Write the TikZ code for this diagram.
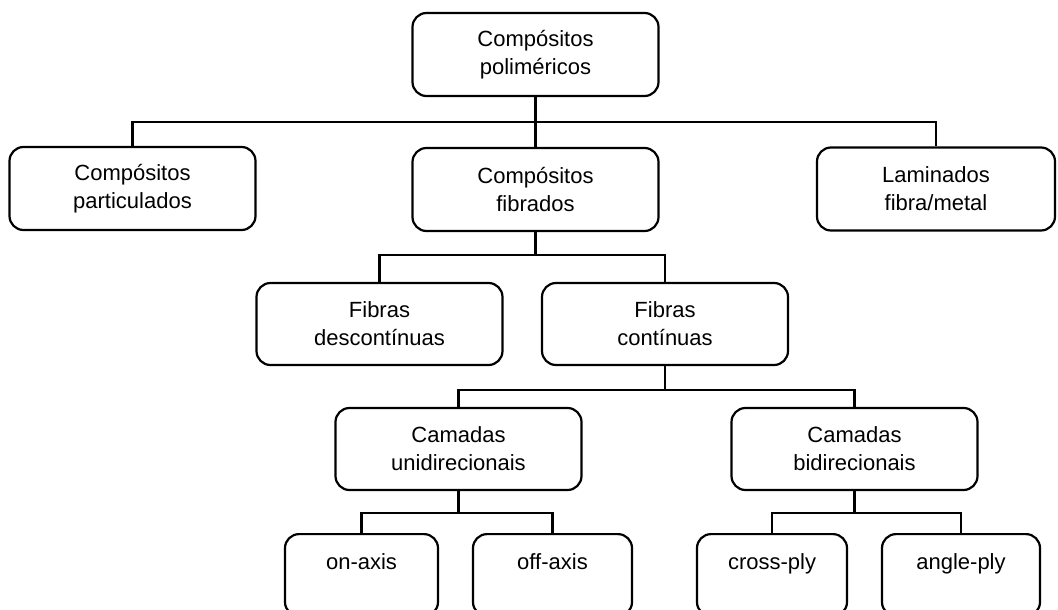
\documentclass[tikz,border=0pt]{standalone}
\usepackage{fontspec}
\setmainfont{Liberation Sans}
\usepackage{tikz}
\usetikzlibrary{positioning}
\tikzstyle{Block} = [draw, rounded corners=14pt, line width=2.2pt, align=center, minimum width=246pt, minimum height=83pt, font=\fontsize{22}{28}\selectfont]
\tikzstyle{Leaf} = [Block, minimum width=155pt, minimum height=82pt, text height=16pt, text depth=28pt, anchor=north]
\tikzstyle{Link} = [line width=2.2pt]

\begin{document}
\begin{tikzpicture}[x=1pt,y=-1pt]
    \clip (0,0) rectangle (1058,610);
    \node[Block] (root) at (535.5,54.5)  {Compósitos\\poliméricos};
    \node[Block] (part) at (132.5,188.5) {Compósitos\\particulados};
    \node[Block] (fib)  at (535.5,189.5) {Compósitos\\fibrados};
    \node[Block, minimum width=238pt] (lam) at (936,189) {Laminados\\fibra/metal};
    \node[Block, minimum height=82pt] (desc) at (379.5,324) {Fibras\\descontínuas};
    \node[Block, minimum height=82pt] (cont) at (665,324)   {Fibras\\contínuas};
    \node[Block, minimum height=82pt] (uni)  at (458.5,449) {Camadas\\unidirecionais};
    \node[Block, minimum height=82pt] (bi)   at (854.5,449) {Camadas\\bidirecionais};
    \node[Leaf, minimum width=153pt] (on)    at (361.5,533) {on-axis};
    \node[Leaf, minimum width=159pt] (off)   at (552.5,533) {off-axis};
    \node[Leaf, minimum width=150pt] (cross) at (772,533)   {cross-ply};
    \node[Leaf, minimum width=158pt] (angle) at (961,533)   {angle-ply};
    % junctions
    \coordinate (bar1) at (535.5,122);
    \coordinate (bar2) at (535.5,255);
    \coordinate (bar3) at (665,390);
    \coordinate (bar4) at (458.5,513);
    \coordinate (bar5) at (854.5,513);
    \draw[Link] (root) -- (bar1);
    \draw[Link] (part) |- (bar1) -| (lam);
    \draw[Link] (bar1) -- (fib);
    \draw[Link] (fib) -- (bar2);
    \draw[Link] (desc) |- (bar2) -| (cont);
    \draw[Link] (cont) -- (bar3);
    \draw[Link] (uni) |- (bar3) -| (bi);
    \draw[Link] (uni) -- (bar4);
    \draw[Link] (on) |- (bar4) -| (off);
    \draw[Link] (bi) -- (bar5);
    \draw[Link] (cross) |- (bar5) -| (angle);
\end{tikzpicture}
\end{document}
